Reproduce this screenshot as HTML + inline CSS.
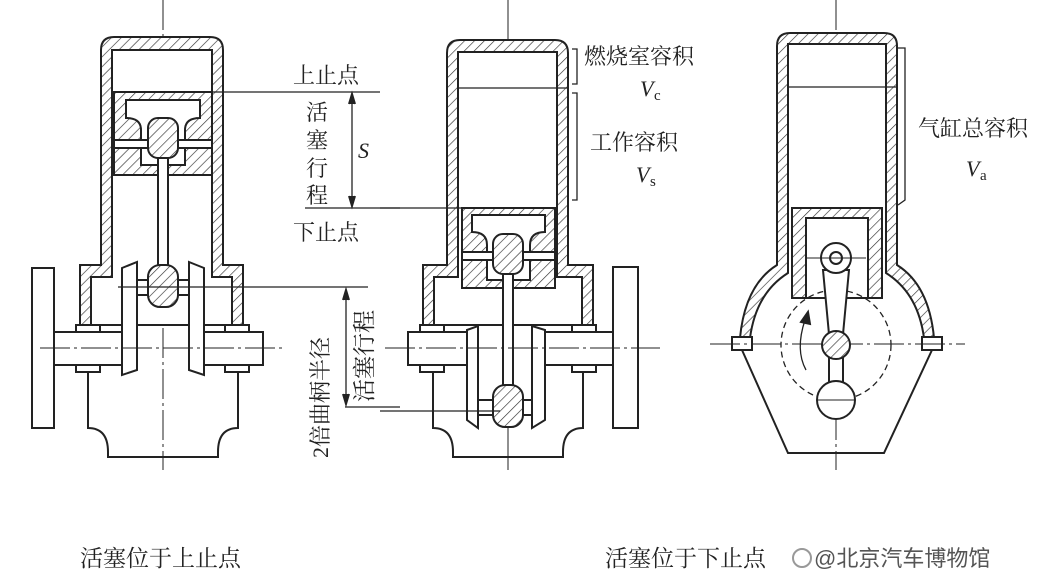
<!DOCTYPE html>
<html><head><meta charset="utf-8"><style>
html,body{margin:0;padding:0;background:#fff;}
svg{display:block;}
text{font-family:"Liberation Serif","Noto Serif CJK SC",serif;fill:#222;}
</style></head><body>
<svg width="1059" height="588" viewBox="0 0 1059 588" xmlns="http://www.w3.org/2000/svg">
<defs>
<pattern id="h" width="7" height="7" patternUnits="userSpaceOnUse" patternTransform="rotate(45)">
<rect width="7" height="7" fill="#fff"/><line x1="0" y1="0" x2="0" y2="7" stroke="#333" stroke-width="1.3"/>
</pattern>
</defs>
<g stroke="#222" stroke-width="2" fill="none">

<!-- ========== LEFT ENGINE ========== -->
<line x1="163" y1="0" x2="163" y2="470" stroke-width="1" stroke-dasharray="30 4 3 4"/>
<path d="M80,325 V265 H101 V50 Q101,37 114,37 H210 Q223,37 223,50 V265 H243 V325 Z" fill="url(#h)"/>
<path d="M91,325 V277 H112 V50 H212 V277 H232 V325 Z" fill="#fff"/>
<rect x="114" y="92" width="98" height="83" fill="url(#h)"/>
<path d="M126,100 H200 V118 Q185,118 185,130 V165 H141 V130 Q141,118 126,118 Z" fill="#fff"/>
<rect x="114" y="140" width="98" height="8" fill="#fff"/>
<rect x="148" y="118" width="30" height="40" rx="10" fill="url(#h)"/>
<rect x="158" y="158" width="10" height="110" fill="#fff"/>
<rect x="137" y="280" width="52" height="15" fill="#fff"/>
<rect x="148" y="265" width="30" height="42" rx="12" fill="url(#h)"/>
<rect x="53" y="332" width="72" height="33" fill="#fff"/>
<rect x="200" y="332" width="63" height="33" fill="#fff"/>
<rect x="32" y="268" width="22" height="160" fill="#fff"/>
<path d="M122,268 L137,262 V370 L122,375 Z" fill="#fff"/>
<path d="M189,262 L204,268 V375 L189,370 Z" fill="#fff"/>
<path d="M76,332 V325 H100 V332 M225,332 V325 H249 V332"/>
<path d="M76,365 V372 H100 V365 M225,365 V372 H249 V365"/>
<path d="M88,372 V428 Q108,428 108,452 V457 H218 V452 Q218,428 238,428 V372"/>
<line x1="40" y1="348" x2="285" y2="348" stroke-width="1" stroke-dasharray="30 4 3 4"/>
<line x1="112" y1="92" x2="380" y2="92" stroke-width="1.3"/>
<line x1="305" y1="208" x2="400" y2="208" stroke-width="1.3"/>
<line x1="118" y1="287" x2="368" y2="287" stroke-width="1.3"/>
<line x1="345" y1="407" x2="400" y2="407" stroke-width="1.3"/>
<line x1="352" y1="96" x2="352" y2="204" stroke-width="1.3"/>
<path d="M349,104 L352,94 L355,104 M349,196 L352,206 L355,196" fill="#222"/>
<line x1="346" y1="291" x2="346" y2="403" stroke-width="1.3"/>
<path d="M343,300 L346,290 L349,300 M343,394 L346,404 L349,394" fill="#222"/>

<!-- ========== MIDDLE ENGINE ========== -->
<line x1="508" y1="0" x2="508" y2="470" stroke-width="1"/>
<path d="M423,325 V265 H447 V53 Q447,40 460,40 H555 Q568,40 568,53 V265 H593 V325 Z" fill="url(#h)"/>
<path d="M434,325 V277 H458 V52 H557 V277 H582 V325 Z" fill="#fff"/>
<line x1="458" y1="88" x2="568" y2="88" stroke-width="1.3"/>
<line x1="380" y1="208" x2="462" y2="208" stroke-width="1.3"/>
<rect x="462" y="208" width="93" height="80" fill="url(#h)"/>
<path d="M472,215 H545 V232 Q530,232 530,245 V280 H487 V245 Q487,232 472,232 Z" fill="#fff"/>
<rect x="462" y="252" width="93" height="8" fill="#fff"/>
<rect x="493" y="234" width="30" height="40" rx="10" fill="url(#h)"/>
<rect x="503" y="274" width="10" height="115" fill="#fff"/>
<rect x="478" y="400" width="54" height="15" fill="#fff"/>
<rect x="493" y="385" width="30" height="42" rx="12" fill="url(#h)"/>
<rect x="408" y="332" width="62" height="33" fill="#fff"/>
<rect x="542" y="332" width="76" height="33" fill="#fff"/>
<rect x="613" y="267" width="25" height="161" fill="#fff"/>
<path d="M467,330 L478,326 V428 L467,420 Z" fill="#fff"/>
<path d="M532,326 L545,330 V420 L532,428 Z" fill="#fff"/>
<path d="M420,332 V325 H444 V332 M572,332 V325 H596 V332"/>
<path d="M420,365 V372 H444 V365 M572,365 V372 H596 V365"/>
<path d="M433,372 V428 Q453,428 453,452 V457 H563 V452 Q563,428 583,428 V372"/>
<line x1="380" y1="411" x2="500" y2="411" stroke-width="1.3"/>
<line x1="385" y1="348" x2="660" y2="348" stroke-width="1" stroke-dasharray="30 4 3 4"/>
<path d="M572,49 H577 V84 H572" stroke-width="1.3"/>
<path d="M572,93 H577 V200 H572" stroke-width="1.3"/>

<!-- ========== RIGHT ENGINE ========== -->
<line x1="836" y1="0" x2="836" y2="470" stroke-width="1" stroke-dasharray="30 4 3 4"/>
<path d="M740,338 Q745,285 777,265 V46 Q777,33 790,33 H884 Q897,33 897,46 V265 Q929,285 934,338 Z" fill="url(#h)"/>
<path d="M750,338 Q756,293 788,273 V44 H886 V273 Q918,293 924,338 Z" fill="#fff"/>
<line x1="750" y1="338" x2="924" y2="338" stroke="#fff" stroke-width="3"/>
<line x1="788" y1="87" x2="897" y2="87" stroke-width="1.3"/>
<rect x="732" y="337" width="20" height="13" fill="#fff"/>
<rect x="922" y="337" width="20" height="13" fill="#fff"/>
<path d="M742,350 L788,453 H884 L932,350"/>
<line x1="710" y1="344" x2="965" y2="344" stroke-width="1" stroke-dasharray="30 4 3 4"/>
<rect x="792" y="208" width="90" height="90" fill="url(#h)"/>
<rect x="806" y="218" width="62" height="80" fill="#fff"/>
<circle cx="836" cy="345" r="55" stroke-width="1.3" stroke-dasharray="6 4"/>
<path d="M823,270 L830,345 H842 L849,270 Z" fill="#fff"/>
<circle cx="836" cy="258" r="15" fill="#fff"/>
<circle cx="836" cy="258" r="6"/>
<line x1="806" y1="258" x2="866" y2="258" stroke-width="1"/>
<rect x="829" y="345" width="14" height="50" fill="#fff"/>
<circle cx="836" cy="345" r="14" fill="url(#h)"/>
<circle cx="836" cy="400" r="19" fill="#fff"/>
<line x1="817" y1="400" x2="855" y2="400" stroke-width="1"/>
<path d="M806,370 Q795,350 805,320" stroke-width="1.3"/>
<path d="M801,322 L808,312 L810,324 Z" fill="#222"/>
<path d="M898,48 H905 V200 L898,205" stroke-width="1.3"/>
</g>

<g font-size="22">
<text x="293" y="83">上止点</text>
<text x="293" y="240">下止点</text>
<text x="306" y="120">活</text>
<text x="306" y="148">塞</text>
<text x="306" y="176">行</text>
<text x="306" y="203">程</text>
<text x="358" y="158" font-style="italic">S</text>
<text transform="translate(328,458) rotate(-90)">2倍曲柄半径</text>
<text transform="translate(372,402) rotate(-90)" font-size="23">活塞行程</text>
<text x="584" y="64">燃烧室容积</text>
<text x="640" y="96" font-style="italic">V</text><text x="654" y="100" font-size="15">c</text>
<text x="590" y="150">工作容积</text>
<text x="636" y="182" font-style="italic">V</text><text x="650" y="186" font-size="15">s</text>
<text x="918" y="136">气缸总容积</text>
<text x="966" y="176" font-style="italic">V</text><text x="980" y="180" font-size="15">a</text>
<text x="80" y="566" font-size="23">活塞位于上止点</text>
<text x="605" y="566" font-size="23">活塞位于下止点</text>
</g>
<circle cx="802" cy="558" r="9" fill="none" stroke="#999" stroke-width="2"/>
<text x="814" y="566" font-size="22" style="fill:#555;font-family:'Liberation Sans','Noto Sans CJK SC',sans-serif">@北京汽车博物馆</text>
</svg>
</body></html>
